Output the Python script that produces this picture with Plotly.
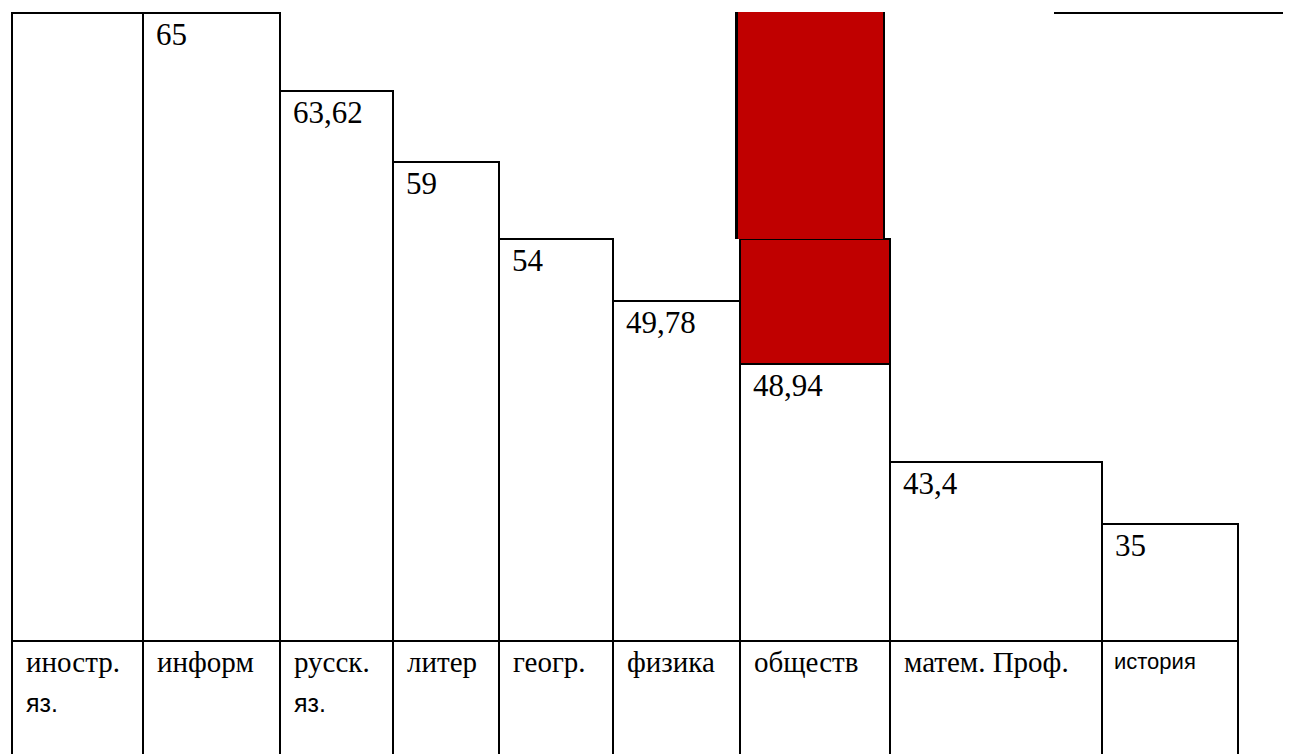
import plotly.graph_objects as go

# ---------------- data ----------------
categories = ["иностр.\nяз.", "информ", "русск.\nяз.", "литер", "геогр.",
              "физика", "обществ", "матем. Проф.", "история"]
values = [None, 65, 63.62, 59, 54, 49.78, 48.94, 43.4, 35]
# bar heights as drawn in the reference table-chart (% of the tallest cell);
# the reference cells are not proportional to the printed numbers
drawn_height = [100, 100, 87.6, 76.3, 64.0, 54.1, 44.1, 28.5, 18.6]
highlight_category = "обществ"
highlight_levels = [44.1, 64.0, 100.2]   # red band: from, step, to

# ---------------- layout constants (pixels) ----------------
W, H = 1297, 754
col_width = [131, 137, 113, 106, 114, 127, 150, 212, 136]
table_left = 12
baseline_px = 641          # bottom of bars / top of label row
top_px = 13                # 100 % level
scale = (baseline_px - top_px) / 100.0
yrange = [-(H - baseline_px) / scale, baseline_px / scale]
xrange = [-table_left, W - table_left]

RED = "#C00000"
SERIF = "Liberation Serif"
SANS = "Liberation Sans"
LW = 2

lefts = []
acc = 0
for w in col_width:
    lefts.append(acc)
    acc += w
centers = [l + w / 2 for l, w in zip(lefts, col_width)]
n = len(categories)

fig = go.Figure()

# label row cells (extend below the page bottom)
fig.add_trace(go.Bar(
    x=centers, y=[yrange[0] - 5] * n, width=col_width,
    marker=dict(color="white", line=dict(color="black", width=LW)),
    hoverinfo="skip", showlegend=False))

# main bars
fig.add_trace(go.Bar(
    x=centers, y=drawn_height, width=col_width,
    marker=dict(color="white", line=dict(color="black", width=LW)),
    hoverinfo="skip", showlegend=False))

# red highlight on "обществ"
hi = categories.index(highlight_category)
hc, hw = centers[hi], col_width[hi]
fig.add_trace(go.Bar(
    x=[hc], y=[highlight_levels[1] - highlight_levels[0]], base=[highlight_levels[0]],
    width=[hw], marker=dict(color=RED, line=dict(color="black", width=LW)),
    hoverinfo="skip", showlegend=False))
# upper part, slightly shifted left, with black side edges
fig.add_trace(go.Bar(
    x=[hc - 5], y=[highlight_levels[2] - highlight_levels[1]], base=[highlight_levels[1]],
    width=[hw], marker=dict(color="black", line=dict(width=0)),
    hoverinfo="skip", showlegend=False))
fig.add_trace(go.Bar(
    x=[hc - 5], y=[highlight_levels[2] - highlight_levels[1]], base=[highlight_levels[1]],
    width=[hw - 5], marker=dict(color=RED, line=dict(width=0)),
    hoverinfo="skip", showlegend=False))

annotations = []
# value labels
for l, v, h in zip(lefts, values, drawn_height):
    if v is None:
        continue
    txt = f"{v:g}".replace(".", ",")
    annotations.append(dict(
        x=l + 11, y=h, xref="x", yref="y", text=txt, showarrow=False,
        xanchor="left", yanchor="top", yshift=-2,
        font=dict(family=SERIF, size=31, color="black")))

# category labels in the table row
for l, cat in zip(lefts, categories):
    lines = cat.split("\n")
    for i, line in enumerate(lines):
        sans = (cat == "история") or i > 0
        annotations.append(dict(
            x=l + (10 if cat == "история" else 12), y=0, xref="x", yref="y",
            text=line, showarrow=False, xanchor="left", yanchor="top",
            yshift=-(3 + i * 40) - (3 if sans else 0),
            font=dict(family=SANS if sans else SERIF, size=22 if cat == "история" else (25 if sans else 29),
                      color="black")))

shapes = [dict(type="line", xref="x", yref="y",
               x0=1054 - table_left, x1=1283 - table_left, y0=100, y1=100,
               line=dict(color="black", width=LW))]

fig.update_layout(
    width=W, height=H, margin=dict(l=0, r=0, t=0, b=0),
    paper_bgcolor="white", plot_bgcolor="white",
    barmode="overlay", bargap=0,
    xaxis=dict(range=xrange, visible=False, fixedrange=True),
    yaxis=dict(range=yrange, visible=False, fixedrange=True),
    annotations=annotations, shapes=shapes, showlegend=False)

fig.write_html("out.html", config={"displayModeBar": False},
               post_script="document.body.style.margin='0';document.body.style.overflow='hidden';")
